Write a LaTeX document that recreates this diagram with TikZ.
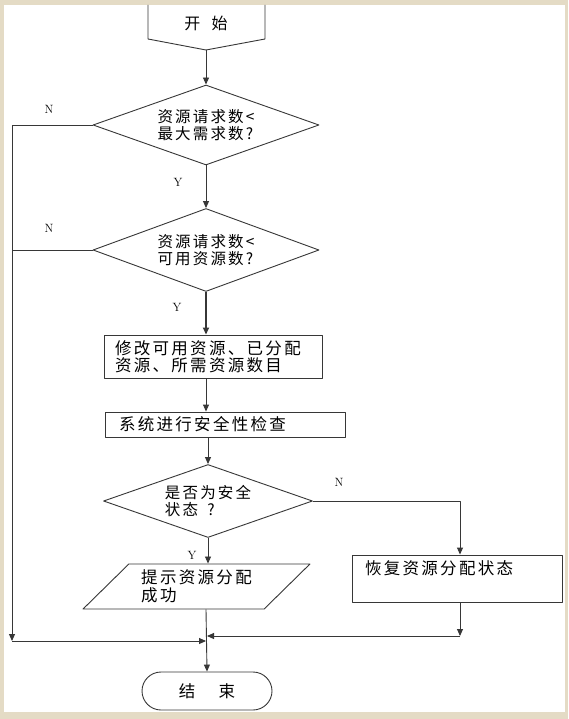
\documentclass[tikz,border=0pt]{standalone}
\usepackage{fontspec}
\newfontfamily\cjk[LetterSpace=14]{Noto Sans CJK SC}
\usetikzlibrary{shapes.geometric,arrows.meta}
\definecolor{framebg}{RGB}{228,219,197}
\definecolor{flowline}{RGB}{55,55,55}
\tikzset{
  box/.style={draw=flowline, line width=0.9pt, font=\cjk\fontsize{16.5}{17.5}\selectfont, align=left, inner ysep=3pt},
  decision/.style={draw=flowline, line width=0.9pt, diamond, aspect=2.8, inner sep=0pt, minimum width=226pt, minimum height=80pt, font=\cjk\fontsize{15.5}{16.5}\selectfont, align=left},
  flow/.style={draw=flowline, line width=0.9pt, -{Triangle[length=7pt,width=6pt]}},
  yn/.style={font=\fontsize{12}{13}\selectfont},
}
\begin{document}
\begin{tikzpicture}[x=1pt, y=-1pt, line join=round]
	\useasboundingbox (0,0) rectangle (568,719);
	\fill[framebg] (0,0) rectangle (568,719);
	\fill[white] (4,5) rectangle (565,712);
	% start
	\draw[flowline, line width=0.9pt] (148,5) -- (148,39) -- (206,50) -- (265,39) -- (265,5);
	\node[font=\cjk\fontsize{16}{17}\selectfont] (start) at (206,23) {开\hspace{0.7em}始};
	\coordinate (starttip) at (206,50);
	% steps
	\node[decision] (req) at (206,125) {资源请求数<\\最大需求数?};
	\node[decision, minimum height=83pt] (avail) at (206,250) {资源请求数<\\可用资源数?};
	\node[box, minimum width=218pt, minimum height=43pt, inner xsep=11pt, text width=196pt] (modify) at (213,356.5) {修改可用资源、已分配\\资源、所需资源数目};
	\node[box, minimum width=240pt, minimum height=25pt, inner xsep=14pt, text width=212pt] (check) at (225,424.5) {系统进行安全性检查};
	\node[decision, minimum width=209pt, minimum height=73pt] (safe) at (208,501) {是否为安全\\状态\hspace{0.6em}?};
	\node[box, trapezium, trapezium left angle=45, trapezium right angle=135, trapezium stretches=true, minimum width=227pt, minimum height=45pt, inner xsep=2pt] (ok) at (196.5,586.5) {提示资源分配\\成功};
	\node[box, minimum width=210pt, inner xsep=13pt, inner ysep=5pt, text width=184pt, text height=14pt, text depth=23pt] (restore) at (457,578.5) {恢复资源分配状态};
	\node[box, rounded corners=19pt, minimum width=130pt, minimum height=38pt, align=center] (stop) at (207,691) {结\hspace{1.4em}束};
	% joins
	\coordinate (lj) at (12,641);
	\coordinate (mj) at (206,641);
	\coordinate (rj) at (460,636);
	\coordinate (mr) at (207,636);
	% connectors
	\draw[flow] (starttip) -- (req.north);
	\draw[flow] (req.south) -- (avail.north);
	\draw[flow, line width=1.6pt] (avail.south) -- (avail.south |- modify.north);
	\draw[flow] (modify.south -| avail.south) -- (check.north -| avail.south);
	\draw[flow] (check.south -| safe.north) -- (safe.north);
	\draw[flow] (safe.south) -- (safe.south |- ok.north);
	\draw[flow] (safe.east) -| (restore.north -| rj);
	\draw[flow] (restore.south -| rj) -- (rj);
	\draw[flow] (rj) -- (mr);
	\draw[flow] (req.west) -| (lj);
	\draw[flowline, line width=0.9pt] (avail.west) -- (avail.west -| lj);
	\draw[flow] (lj) -- (mj);
	\draw[flow] (ok.south -| mj) -- (stop.north);
	% labels
	\node[yn] (n1) at (49,109) {N};
	\node[yn] (n2) at (49,228) {N};
	\node[yn] (n3) at (339,482) {N};
	\node[yn] (y1) at (178,182) {Y};
	\node[yn] (y2) at (177,307) {Y};
	\node[yn] (y3) at (192,555) {Y};
\end{tikzpicture}
\end{document}
